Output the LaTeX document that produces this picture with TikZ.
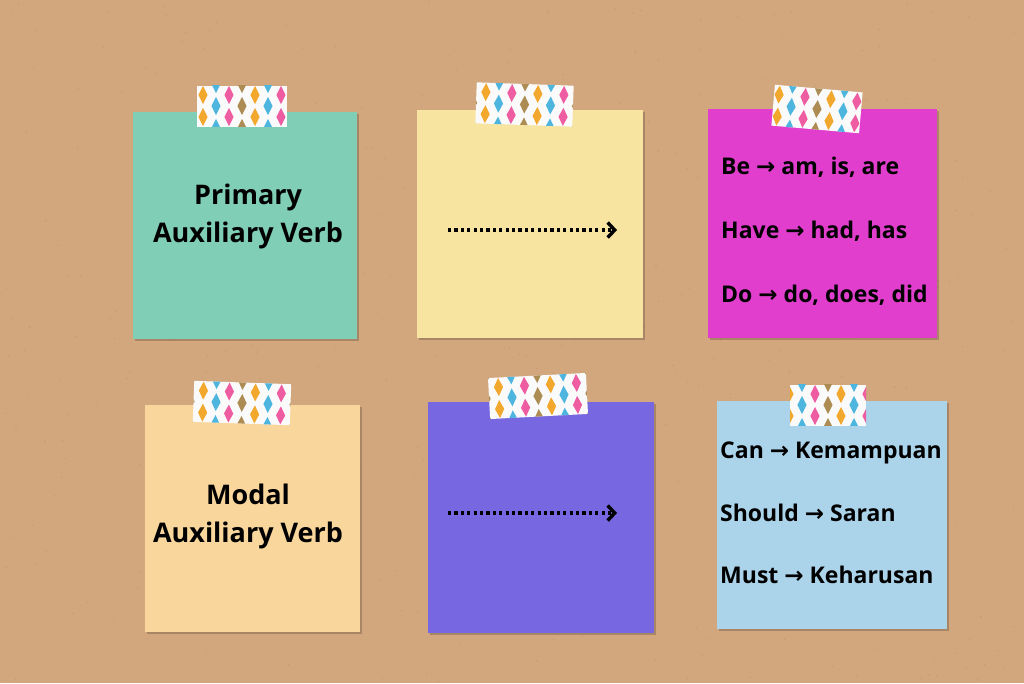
\documentclass[tikz,border=0pt]{standalone}
\usepackage{fontspec}
\setmainfont{Open Sans}
\newfontfamily\arrowfont{DejaVu Sans}
\usepackage{tikz}
\usetikzlibrary{positioning, arrows.meta, shadows}

\definecolor{kraft}{RGB}{210,167,126}
\definecolor{kraftdark}{RGB}{150,105,65}
\definecolor{notegreen}{RGB}{128,206,181}
\definecolor{noteyellow}{RGB}{246,228,160}
\definecolor{notemagenta}{RGB}{225,62,206}
\definecolor{notepeach}{RGB}{248,214,156}
\definecolor{notepurple}{RGB}{119,103,224}
\definecolor{noteblue}{RGB}{171,212,234}
\definecolor{tapec0}{RGB}{172,140,82}
\definecolor{tapec1}{RGB}{242,168,44}
\definecolor{tapec2}{RGB}{78,182,222}
\definecolor{tapec3}{RGB}{238,92,162}

\newcommand{\toarr}{{\arrowfont\symbol{"2192}}}

\tikzset{
    x=1pt, y=-1pt, % one unit is one pixel of the reference, y runs down
    >=Stealth, % default arrow head
    note/.style={inner sep=0pt, drop shadow={shadow xshift=1.5pt, shadow yshift=-1.5pt, opacity=0.2, fill=black}}, % the sticky notes
    tape/.style={fill=white!96!gray, inner sep=0pt, minimum height=41pt, % the washi tape on top
        path picture={
            \foreach \i in {-5,...,5} {
                \foreach \j in {-2,...,2} {
                    \pgfmathtruncatemacro{\k}{mod(\i+20,4)}
                    \pgfmathsetmacro{\dx}{\i*13}
                    \pgfmathsetmacro{\dy}{\j*22+mod(\i+20,2)*11}
                    \fill[tapec\k] (path picture bounding box.center) ++(\dx,\dy-9) -- ++(4.6,9) -- ++(-4.6,9) -- ++(-4.6,-9) -- cycle;
                }
            }
        }},
    title/.style={font=\bfseries\fontsize{27}{38}\selectfont, align=center, inner sep=0pt}, % big labels
    listtext/.style={font=\bfseries\fontsize{23}{26}\selectfont, anchor=base west, inner sep=0pt}, % the lists
    dotarrow/.style={line width=3.2pt, dash pattern=on 3.2pt off 3.2pt, -{Straight Barb[length=7pt, width=15pt, line width=3.4pt]}}, % dotted arrows
}

\begin{document}
\begin{tikzpicture}
    % board
    \fill[kraft] (0,0) rectangle (1024,683);
    \useasboundingbox (0,0) rectangle (1024,683);
    \pgfmathsetseed{11}
    \foreach \k in {1,...,400} {
        \fill[kraftdark, opacity=0.18] ({1024*rnd},{683*rnd}) circle[radius=0.8pt];
    }

    % notes
    \node[note, fill=notegreen, minimum width=224pt, minimum height=227pt] (primary) at (245,225.5) {};
    \node[note, fill=noteyellow, minimum width=226pt, minimum height=228pt] (primaryarrow) at (530,224) {};
    \node[note, fill=notemagenta, minimum width=229pt, minimum height=229pt] (primarylist) at (822.5,223.5) {};
    \node[note, fill=notepeach, minimum width=215pt, minimum height=227pt] (modal) at (252.5,518.5) {};
    \node[note, fill=notepurple, minimum width=226pt, minimum height=231pt] (modalarrow) at (541,517.5) {};
    \node[note, fill=noteblue, minimum width=230pt, minimum height=228pt] (modallist) at (832,515) {};

    % tapes
    \node[tape, minimum width=90pt] (tape1) at (242,106) {};
    \node[tape, minimum width=97pt, rotate=-2] (tape2) at (524.5,104.5) {};
    \node[tape, minimum width=88pt, rotate=-5] (tape3) at (817,109) {};
    \node[tape, minimum width=97pt, rotate=-2] (tape4) at (242,403) {};
    \node[tape, minimum width=98pt, rotate=3] (tape5) at (538,396) {};
    \node[tape, minimum width=76pt] (tape6) at (828,405) {};

    % labels
    \node[title, anchor=base] (primarytext) at (248,242) {Primary\\Auxiliary Verb};
    \node[title, anchor=base] (modaltext) at (248,542) {Modal\\Auxiliary Verb};

    \node[listtext] (be) at (721,174) {Be \toarr{} am, is, are};
    \node[listtext] (have) at (721,238) {Have \toarr{} had, has};
    \node[listtext] (do) at (721,302) {Do \toarr{} do, does, did};

    \node[listtext] (can) at (720,458) {Can \toarr{} Kemampuan};
    \node[listtext] (should) at (720,521) {Should \toarr{} Saran};
    \node[listtext] (must) at (720,583) {Must \toarr{} Keharusan};

    % arrows
    \coordinate (p1) at (448,230);
    \coordinate (p2) at (617,230);
    \coordinate (m1) at (448,513);
    \coordinate (m2) at (617,513);
    \draw[dotarrow] (p1) -- (p2);
    \draw[dotarrow] (m1) -- (m2);
\end{tikzpicture}
\end{document}
